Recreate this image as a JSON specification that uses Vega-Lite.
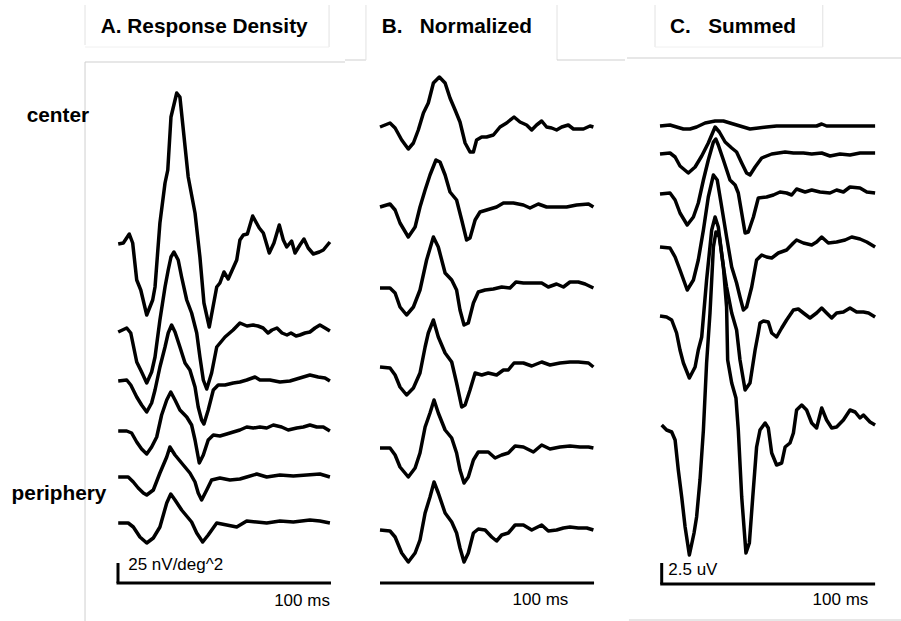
{
"$schema":"https://vega.github.io/schema/vega-lite/v6.json",
"padding":0,
"spacing":0,
"bounds":"flush",
"background":"white",
"config":{"view":{"stroke":null},"font":"Liberation Sans"},
"datasets":{
"traces":[
{"p":"A","s":"A1","t":0.1,"v":377},{"p":"A","s":"A1","t":2.5,"v":378},{"p":"A","s":"A1","t":5.3,"v":387},{"p":"A","s":"A1","t":6.9,"v":378},{"p":"A","s":"A1","t":8.8,"v":341},{"p":"A","s":"A1","t":10.7,"v":331},{"p":"A","s":"A1","t":13.5,"v":306},{"p":"A","s":"A1","t":16.3,"v":321},{"p":"A","s":"A1","t":17.4,"v":334},{"p":"A","s":"A1","t":19.7,"v":398},{"p":"A","s":"A1","t":22.1,"v":438},{"p":"A","s":"A1","t":23.4,"v":451},{"p":"A","s":"A1","t":24.9,"v":504},{"p":"A","s":"A1","t":27.6,"v":528},{"p":"A","s":"A1","t":29.1,"v":524},{"p":"A","s":"A1","t":33.0,"v":444},{"p":"A","s":"A1","t":36.2,"v":408},{"p":"A","s":"A1","t":38.5,"v":364},{"p":"A","s":"A1","t":40.4,"v":318},{"p":"A","s":"A1","t":42.9,"v":294},{"p":"A","s":"A1","t":46.4,"v":334},{"p":"A","s":"A1","t":47.9,"v":338},{"p":"A","s":"A1","t":49.8,"v":349},{"p":"A","s":"A1","t":51.8,"v":342},{"p":"A","s":"A1","t":55.8,"v":361},{"p":"A","s":"A1","t":57.3,"v":381},{"p":"A","s":"A1","t":58.9,"v":386},{"p":"A","s":"A1","t":60.8,"v":387},{"p":"A","s":"A1","t":63.3,"v":405},{"p":"A","s":"A1","t":66.4,"v":393},{"p":"A","s":"A1","t":68.3,"v":388},{"p":"A","s":"A1","t":71.1,"v":368},{"p":"A","s":"A1","t":73.3,"v":378},{"p":"A","s":"A1","t":75.8,"v":396},{"p":"A","s":"A1","t":77.7,"v":381},{"p":"A","s":"A1","t":79.3,"v":374},{"p":"A","s":"A1","t":81.6,"v":380},{"p":"A","s":"A1","t":83.2,"v":368},{"p":"A","s":"A1","t":85.5,"v":376},{"p":"A","s":"A1","t":87.4,"v":382},{"p":"A","s":"A1","t":89.4,"v":373},{"p":"A","s":"A1","t":91.8,"v":367},{"p":"A","s":"A1","t":94.6,"v":369},{"p":"A","s":"A1","t":96.5,"v":371},{"p":"A","s":"A1","t":99.6,"v":379},
{"p":"A","s":"A2","t":0.1,"v":289},{"p":"A","s":"A2","t":4.1,"v":293},{"p":"A","s":"A2","t":6.0,"v":288},{"p":"A","s":"A2","t":8.8,"v":259},{"p":"A","s":"A2","t":11.1,"v":249},{"p":"A","s":"A2","t":13.5,"v":238},{"p":"A","s":"A2","t":15.8,"v":249},{"p":"A","s":"A2","t":17.4,"v":264},{"p":"A","s":"A2","t":19.7,"v":301},{"p":"A","s":"A2","t":22.1,"v":334},{"p":"A","s":"A2","t":23.6,"v":351},{"p":"A","s":"A2","t":24.9,"v":364},{"p":"A","s":"A2","t":26.3,"v":369},{"p":"A","s":"A2","t":28.3,"v":361},{"p":"A","s":"A2","t":29.9,"v":344},{"p":"A","s":"A2","t":32.3,"v":321},{"p":"A","s":"A2","t":34.6,"v":308},{"p":"A","s":"A2","t":37.0,"v":288},{"p":"A","s":"A2","t":38.5,"v":264},{"p":"A","s":"A2","t":40.1,"v":241},{"p":"A","s":"A2","t":41.7,"v":232},{"p":"A","s":"A2","t":44.0,"v":248},{"p":"A","s":"A2","t":46.4,"v":274},{"p":"A","s":"A2","t":50.3,"v":284},{"p":"A","s":"A2","t":54.1,"v":291},{"p":"A","s":"A2","t":57.3,"v":298},{"p":"A","s":"A2","t":60.6,"v":295},{"p":"A","s":"A2","t":63.5,"v":296},{"p":"A","s":"A2","t":65.8,"v":295},{"p":"A","s":"A2","t":68.2,"v":293},{"p":"A","s":"A2","t":70.5,"v":288},{"p":"A","s":"A2","t":72.4,"v":291},{"p":"A","s":"A2","t":74.7,"v":293},{"p":"A","s":"A2","t":77.1,"v":288},{"p":"A","s":"A2","t":79.4,"v":286},{"p":"A","s":"A2","t":81.3,"v":288},{"p":"A","s":"A2","t":83.7,"v":285},{"p":"A","s":"A2","t":85.5,"v":286},{"p":"A","s":"A2","t":87.9,"v":288},{"p":"A","s":"A2","t":90.2,"v":289},{"p":"A","s":"A2","t":92.6,"v":293},{"p":"A","s":"A2","t":94.9,"v":296},{"p":"A","s":"A2","t":97.3,"v":293},{"p":"A","s":"A2","t":99.6,"v":290},
{"p":"A","s":"A3","t":0.1,"v":240},{"p":"A","s":"A3","t":4.1,"v":241},{"p":"A","s":"A3","t":6.0,"v":236},{"p":"A","s":"A3","t":8.8,"v":224},{"p":"A","s":"A3","t":11.1,"v":216},{"p":"A","s":"A3","t":13.5,"v":209},{"p":"A","s":"A3","t":15.8,"v":218},{"p":"A","s":"A3","t":17.4,"v":231},{"p":"A","s":"A3","t":19.7,"v":254},{"p":"A","s":"A3","t":22.1,"v":274},{"p":"A","s":"A3","t":23.6,"v":288},{"p":"A","s":"A3","t":25.2,"v":296},{"p":"A","s":"A3","t":26.8,"v":289},{"p":"A","s":"A3","t":29.1,"v":274},{"p":"A","s":"A3","t":31.5,"v":258},{"p":"A","s":"A3","t":33.8,"v":251},{"p":"A","s":"A3","t":36.2,"v":234},{"p":"A","s":"A3","t":37.7,"v":214},{"p":"A","s":"A3","t":39.3,"v":201},{"p":"A","s":"A3","t":40.4,"v":197},{"p":"A","s":"A3","t":42.4,"v":211},{"p":"A","s":"A3","t":44.8,"v":231},{"p":"A","s":"A3","t":47.1,"v":236},{"p":"A","s":"A3","t":50.3,"v":236},{"p":"A","s":"A3","t":54.2,"v":238},{"p":"A","s":"A3","t":57.3,"v":239},{"p":"A","s":"A3","t":60.5,"v":241},{"p":"A","s":"A3","t":64.4,"v":244},{"p":"A","s":"A3","t":66.7,"v":241},{"p":"A","s":"A3","t":71.4,"v":241},{"p":"A","s":"A3","t":76.1,"v":239},{"p":"A","s":"A3","t":80.8,"v":240},{"p":"A","s":"A3","t":85.5,"v":243},{"p":"A","s":"A3","t":90.2,"v":246},{"p":"A","s":"A3","t":94.1,"v":244},{"p":"A","s":"A3","t":97.3,"v":243},{"p":"A","s":"A3","t":99.6,"v":240},
{"p":"A","s":"A4","t":0.1,"v":190},{"p":"A","s":"A4","t":4.1,"v":190},{"p":"A","s":"A4","t":6.4,"v":188},{"p":"A","s":"A4","t":8.8,"v":179},{"p":"A","s":"A4","t":11.1,"v":172},{"p":"A","s":"A4","t":13.5,"v":167},{"p":"A","s":"A4","t":15.8,"v":174},{"p":"A","s":"A4","t":18.2,"v":184},{"p":"A","s":"A4","t":20.5,"v":206},{"p":"A","s":"A4","t":22.9,"v":221},{"p":"A","s":"A4","t":24.8,"v":229},{"p":"A","s":"A4","t":26.8,"v":221},{"p":"A","s":"A4","t":29.1,"v":211},{"p":"A","s":"A4","t":32.3,"v":204},{"p":"A","s":"A4","t":34.6,"v":196},{"p":"A","s":"A4","t":36.2,"v":181},{"p":"A","s":"A4","t":38.2,"v":158},{"p":"A","s":"A4","t":40.1,"v":166},{"p":"A","s":"A4","t":42.4,"v":181},{"p":"A","s":"A4","t":44.8,"v":186},{"p":"A","s":"A4","t":47.9,"v":185},{"p":"A","s":"A4","t":51.1,"v":187},{"p":"A","s":"A4","t":54.2,"v":189},{"p":"A","s":"A4","t":57.3,"v":191},{"p":"A","s":"A4","t":60.5,"v":194},{"p":"A","s":"A4","t":63.6,"v":193},{"p":"A","s":"A4","t":66.7,"v":194},{"p":"A","s":"A4","t":69.9,"v":193},{"p":"A","s":"A4","t":73.0,"v":196},{"p":"A","s":"A4","t":76.9,"v":194},{"p":"A","s":"A4","t":80.0,"v":191},{"p":"A","s":"A4","t":84.0,"v":193},{"p":"A","s":"A4","t":87.1,"v":194},{"p":"A","s":"A4","t":90.2,"v":196},{"p":"A","s":"A4","t":93.4,"v":194},{"p":"A","s":"A4","t":96.5,"v":194},{"p":"A","s":"A4","t":99.6,"v":190},
{"p":"A","s":"A5","t":0.1,"v":144},{"p":"A","s":"A5","t":4.8,"v":144},{"p":"A","s":"A5","t":7.2,"v":139},{"p":"A","s":"A5","t":9.5,"v":133},{"p":"A","s":"A5","t":11.9,"v":128},{"p":"A","s":"A5","t":13.5,"v":126},{"p":"A","s":"A5","t":16.6,"v":131},{"p":"A","s":"A5","t":19.7,"v":148},{"p":"A","s":"A5","t":22.9,"v":164},{"p":"A","s":"A5","t":24.4,"v":174},{"p":"A","s":"A5","t":26.8,"v":166},{"p":"A","s":"A5","t":29.9,"v":158},{"p":"A","s":"A5","t":33.8,"v":148},{"p":"A","s":"A5","t":36.2,"v":139},{"p":"A","s":"A5","t":37.7,"v":128},{"p":"A","s":"A5","t":39.3,"v":121},{"p":"A","s":"A5","t":41.7,"v":131},{"p":"A","s":"A5","t":44.0,"v":141},{"p":"A","s":"A5","t":47.9,"v":143},{"p":"A","s":"A5","t":52.6,"v":141},{"p":"A","s":"A5","t":57.3,"v":142},{"p":"A","s":"A5","t":60.5,"v":144},{"p":"A","s":"A5","t":65.2,"v":147},{"p":"A","s":"A5","t":69.9,"v":144},{"p":"A","s":"A5","t":76.1,"v":146},{"p":"A","s":"A5","t":82.4,"v":145},{"p":"A","s":"A5","t":88.7,"v":146},{"p":"A","s":"A5","t":94.9,"v":147},{"p":"A","s":"A5","t":99.6,"v":144},
{"p":"A","s":"A6","t":0.1,"v":98},{"p":"A","s":"A6","t":4.8,"v":98},{"p":"A","s":"A6","t":7.2,"v":94},{"p":"A","s":"A6","t":10.3,"v":84},{"p":"A","s":"A6","t":13.5,"v":78},{"p":"A","s":"A6","t":16.6,"v":83},{"p":"A","s":"A6","t":19.7,"v":94},{"p":"A","s":"A6","t":22.9,"v":118},{"p":"A","s":"A6","t":24.8,"v":127},{"p":"A","s":"A6","t":26.8,"v":121},{"p":"A","s":"A6","t":29.9,"v":111},{"p":"A","s":"A6","t":34.6,"v":99},{"p":"A","s":"A6","t":37.0,"v":88},{"p":"A","s":"A6","t":39.8,"v":79},{"p":"A","s":"A6","t":42.4,"v":86},{"p":"A","s":"A6","t":46.4,"v":98},{"p":"A","s":"A6","t":51.1,"v":96},{"p":"A","s":"A6","t":55.8,"v":94},{"p":"A","s":"A6","t":60.5,"v":100},{"p":"A","s":"A6","t":65.2,"v":99},{"p":"A","s":"A6","t":69.9,"v":98},{"p":"A","s":"A6","t":76.1,"v":100},{"p":"A","s":"A6","t":82.4,"v":99},{"p":"A","s":"A6","t":90.2,"v":101},{"p":"A","s":"A6","t":94.9,"v":100},{"p":"A","s":"A6","t":99.6,"v":98},
{"p":"B","s":"B1","t":0,"v":494},{"p":"B","s":"B1","t":4.7,"v":498},{"p":"B","s":"B1","t":7.1,"v":493},{"p":"B","s":"B1","t":10.2,"v":481},{"p":"B","s":"B1","t":13.3,"v":472},{"p":"B","s":"B1","t":15.7,"v":478},{"p":"B","s":"B1","t":18.0,"v":491},{"p":"B","s":"B1","t":20.4,"v":508},{"p":"B","s":"B1","t":22.7,"v":518},{"p":"B","s":"B1","t":25.1,"v":538},{"p":"B","s":"B1","t":27.9,"v":544},{"p":"B","s":"B1","t":30.6,"v":538},{"p":"B","s":"B1","t":32.9,"v":523},{"p":"B","s":"B1","t":35.3,"v":511},{"p":"B","s":"B1","t":37.6,"v":499},{"p":"B","s":"B1","t":40.0,"v":478},{"p":"B","s":"B1","t":42.3,"v":469},{"p":"B","s":"B1","t":43.9,"v":469},{"p":"B","s":"B1","t":45.4,"v":481},{"p":"B","s":"B1","t":47.8,"v":484},{"p":"B","s":"B1","t":50.1,"v":484},{"p":"B","s":"B1","t":53.3,"v":486},{"p":"B","s":"B1","t":56.4,"v":494},{"p":"B","s":"B1","t":59.5,"v":498},{"p":"B","s":"B1","t":63.0,"v":504},{"p":"B","s":"B1","t":65.8,"v":499},{"p":"B","s":"B1","t":68.9,"v":496},{"p":"B","s":"B1","t":71.3,"v":491},{"p":"B","s":"B1","t":73.6,"v":496},{"p":"B","s":"B1","t":76.0,"v":500},{"p":"B","s":"B1","t":78.3,"v":494},{"p":"B","s":"B1","t":80.7,"v":493},{"p":"B","s":"B1","t":83.0,"v":491},{"p":"B","s":"B1","t":85.4,"v":494},{"p":"B","s":"B1","t":88.5,"v":496},{"p":"B","s":"B1","t":90.9,"v":492},{"p":"B","s":"B1","t":95.6,"v":492},{"p":"B","s":"B1","t":98.7,"v":495},{"p":"B","s":"B1","t":100.3,"v":494},
{"p":"B","s":"B2","t":0,"v":414},{"p":"B","s":"B2","t":4.7,"v":417},{"p":"B","s":"B2","t":7.1,"v":411},{"p":"B","s":"B2","t":9.4,"v":398},{"p":"B","s":"B2","t":13.3,"v":384},{"p":"B","s":"B2","t":16.5,"v":394},{"p":"B","s":"B2","t":18.8,"v":414},{"p":"B","s":"B2","t":21.2,"v":431},{"p":"B","s":"B2","t":23.5,"v":446},{"p":"B","s":"B2","t":26.3,"v":461},{"p":"B","s":"B2","t":28.2,"v":459},{"p":"B","s":"B2","t":30.6,"v":446},{"p":"B","s":"B2","t":32.9,"v":429},{"p":"B","s":"B2","t":36.0,"v":421},{"p":"B","s":"B2","t":38.4,"v":401},{"p":"B","s":"B2","t":40.7,"v":381},{"p":"B","s":"B2","t":42.3,"v":383},{"p":"B","s":"B2","t":44.7,"v":401},{"p":"B","s":"B2","t":47.0,"v":409},{"p":"B","s":"B2","t":50.1,"v":411},{"p":"B","s":"B2","t":54.8,"v":414},{"p":"B","s":"B2","t":58.0,"v":418},{"p":"B","s":"B2","t":62.7,"v":418},{"p":"B","s":"B2","t":67.4,"v":416},{"p":"B","s":"B2","t":70.5,"v":413},{"p":"B","s":"B2","t":74.4,"v":417},{"p":"B","s":"B2","t":78.3,"v":414},{"p":"B","s":"B2","t":83.0,"v":414},{"p":"B","s":"B2","t":87.7,"v":414},{"p":"B","s":"B2","t":92.4,"v":416},{"p":"B","s":"B2","t":98.0,"v":417},{"p":"B","s":"B2","t":100.3,"v":414},
{"p":"B","s":"B3","t":0,"v":333},{"p":"B","s":"B3","t":4.7,"v":333},{"p":"B","s":"B3","t":7.1,"v":328},{"p":"B","s":"B3","t":9.4,"v":314},{"p":"B","s":"B3","t":12.5,"v":306},{"p":"B","s":"B3","t":15.7,"v":314},{"p":"B","s":"B3","t":18.8,"v":331},{"p":"B","s":"B3","t":21.9,"v":361},{"p":"B","s":"B3","t":25.1,"v":384},{"p":"B","s":"B3","t":27.4,"v":374},{"p":"B","s":"B3","t":30.6,"v":348},{"p":"B","s":"B3","t":33.7,"v":341},{"p":"B","s":"B3","t":36.0,"v":331},{"p":"B","s":"B3","t":37.6,"v":311},{"p":"B","s":"B3","t":39.5,"v":296},{"p":"B","s":"B3","t":41.5,"v":298},{"p":"B","s":"B3","t":43.9,"v":318},{"p":"B","s":"B3","t":46.2,"v":329},{"p":"B","s":"B3","t":49.4,"v":331},{"p":"B","s":"B3","t":53.3,"v":332},{"p":"B","s":"B3","t":57.2,"v":334},{"p":"B","s":"B3","t":61.1,"v":333},{"p":"B","s":"B3","t":63.9,"v":339},{"p":"B","s":"B3","t":67.4,"v":338},{"p":"B","s":"B3","t":72.1,"v":338},{"p":"B","s":"B3","t":76.0,"v":338},{"p":"B","s":"B3","t":79.1,"v":334},{"p":"B","s":"B3","t":83.0,"v":337},{"p":"B","s":"B3","t":86.2,"v":334},{"p":"B","s":"B3","t":89.3,"v":339},{"p":"B","s":"B3","t":93.2,"v":339},{"p":"B","s":"B3","t":96.4,"v":337},{"p":"B","s":"B3","t":100.3,"v":333},
{"p":"B","s":"B4","t":0,"v":254},{"p":"B","s":"B4","t":4.7,"v":253},{"p":"B","s":"B4","t":7.1,"v":246},{"p":"B","s":"B4","t":9.4,"v":234},{"p":"B","s":"B4","t":12.5,"v":226},{"p":"B","s":"B4","t":15.7,"v":233},{"p":"B","s":"B4","t":18.8,"v":248},{"p":"B","s":"B4","t":21.2,"v":274},{"p":"B","s":"B4","t":22.7,"v":288},{"p":"B","s":"B4","t":25.1,"v":301},{"p":"B","s":"B4","t":27.4,"v":284},{"p":"B","s":"B4","t":30.6,"v":268},{"p":"B","s":"B4","t":33.7,"v":259},{"p":"B","s":"B4","t":36.0,"v":238},{"p":"B","s":"B4","t":38.4,"v":214},{"p":"B","s":"B4","t":40.0,"v":216},{"p":"B","s":"B4","t":42.3,"v":231},{"p":"B","s":"B4","t":44.7,"v":248},{"p":"B","s":"B4","t":47.8,"v":246},{"p":"B","s":"B4","t":50.9,"v":248},{"p":"B","s":"B4","t":54.8,"v":246},{"p":"B","s":"B4","t":58.0,"v":251},{"p":"B","s":"B4","t":60.3,"v":251},{"p":"B","s":"B4","t":63.0,"v":258},{"p":"B","s":"B4","t":67.4,"v":258},{"p":"B","s":"B4","t":71.3,"v":255},{"p":"B","s":"B4","t":76.0,"v":259},{"p":"B","s":"B4","t":79.9,"v":256},{"p":"B","s":"B4","t":84.6,"v":258},{"p":"B","s":"B4","t":89.3,"v":259},{"p":"B","s":"B4","t":93.2,"v":259},{"p":"B","s":"B4","t":98.0,"v":258},{"p":"B","s":"B4","t":100.3,"v":254},
{"p":"B","s":"B5","t":0,"v":173},{"p":"B","s":"B5","t":4.7,"v":173},{"p":"B","s":"B5","t":7.1,"v":166},{"p":"B","s":"B5","t":9.4,"v":154},{"p":"B","s":"B5","t":13.3,"v":144},{"p":"B","s":"B5","t":16.5,"v":153},{"p":"B","s":"B5","t":18.8,"v":168},{"p":"B","s":"B5","t":21.2,"v":194},{"p":"B","s":"B5","t":23.5,"v":208},{"p":"B","s":"B5","t":25.4,"v":221},{"p":"B","s":"B5","t":27.4,"v":208},{"p":"B","s":"B5","t":30.6,"v":191},{"p":"B","s":"B5","t":33.7,"v":183},{"p":"B","s":"B5","t":36.0,"v":168},{"p":"B","s":"B5","t":37.6,"v":151},{"p":"B","s":"B5","t":39.5,"v":138},{"p":"B","s":"B5","t":41.5,"v":144},{"p":"B","s":"B5","t":43.9,"v":161},{"p":"B","s":"B5","t":46.2,"v":169},{"p":"B","s":"B5","t":50.9,"v":169},{"p":"B","s":"B5","t":54.1,"v":163},{"p":"B","s":"B5","t":57.2,"v":166},{"p":"B","s":"B5","t":60.3,"v":168},{"p":"B","s":"B5","t":63.5,"v":175},{"p":"B","s":"B5","t":67.4,"v":174},{"p":"B","s":"B5","t":72.1,"v":169},{"p":"B","s":"B5","t":76.0,"v":176},{"p":"B","s":"B5","t":79.9,"v":172},{"p":"B","s":"B5","t":84.6,"v":174},{"p":"B","s":"B5","t":89.3,"v":175},{"p":"B","s":"B5","t":94.0,"v":174},{"p":"B","s":"B5","t":98.0,"v":174},{"p":"B","s":"B5","t":100.3,"v":173},
{"p":"B","s":"B6","t":0,"v":91},{"p":"B","s":"B6","t":4.7,"v":90},{"p":"B","s":"B6","t":7.1,"v":84},{"p":"B","s":"B6","t":10.2,"v":68},{"p":"B","s":"B6","t":13.3,"v":59},{"p":"B","s":"B6","t":16.5,"v":68},{"p":"B","s":"B6","t":18.8,"v":81},{"p":"B","s":"B6","t":21.2,"v":108},{"p":"B","s":"B6","t":23.5,"v":124},{"p":"B","s":"B6","t":25.4,"v":139},{"p":"B","s":"B6","t":27.4,"v":128},{"p":"B","s":"B6","t":30.6,"v":108},{"p":"B","s":"B6","t":33.7,"v":99},{"p":"B","s":"B6","t":36.0,"v":88},{"p":"B","s":"B6","t":37.6,"v":73},{"p":"B","s":"B6","t":39.5,"v":59},{"p":"B","s":"B6","t":41.5,"v":68},{"p":"B","s":"B6","t":43.9,"v":88},{"p":"B","s":"B6","t":46.2,"v":92},{"p":"B","s":"B6","t":49.4,"v":91},{"p":"B","s":"B6","t":52.5,"v":84},{"p":"B","s":"B6","t":54.8,"v":80},{"p":"B","s":"B6","t":57.2,"v":86},{"p":"B","s":"B6","t":60.3,"v":88},{"p":"B","s":"B6","t":63.5,"v":96},{"p":"B","s":"B6","t":67.4,"v":96},{"p":"B","s":"B6","t":71.3,"v":91},{"p":"B","s":"B6","t":76.0,"v":96},{"p":"B","s":"B6","t":79.1,"v":90},{"p":"B","s":"B6","t":83.0,"v":91},{"p":"B","s":"B6","t":86.2,"v":93},{"p":"B","s":"B6","t":89.3,"v":94},{"p":"B","s":"B6","t":93.2,"v":93},{"p":"B","s":"B6","t":97.2,"v":93},{"p":"B","s":"B6","t":100.3,"v":91},
{"p":"C","s":"C1","t":0,"v":495},{"p":"C","s":"C1","t":4.7,"v":496},{"p":"C","s":"C1","t":7.8,"v":494},{"p":"C","s":"C1","t":11.0,"v":492},{"p":"C","s":"C1","t":14.1,"v":492},{"p":"C","s":"C1","t":17.2,"v":494},{"p":"C","s":"C1","t":21.2,"v":498},{"p":"C","s":"C1","t":25.9,"v":500},{"p":"C","s":"C1","t":29.8,"v":500},{"p":"C","s":"C1","t":32.9,"v":498},{"p":"C","s":"C1","t":37.6,"v":495},{"p":"C","s":"C1","t":42.3,"v":492},{"p":"C","s":"C1","t":46.2,"v":493},{"p":"C","s":"C1","t":50.1,"v":494},{"p":"C","s":"C1","t":54.8,"v":495},{"p":"C","s":"C1","t":61.1,"v":495},{"p":"C","s":"C1","t":67.4,"v":495},{"p":"C","s":"C1","t":73.6,"v":495},{"p":"C","s":"C1","t":76.0,"v":497},{"p":"C","s":"C1","t":78.3,"v":495},{"p":"C","s":"C1","t":86.2,"v":495},{"p":"C","s":"C1","t":101.1,"v":495},
{"p":"C","s":"C2","t":0,"v":467},{"p":"C","s":"C2","t":4.7,"v":468},{"p":"C","s":"C2","t":7.1,"v":464},{"p":"C","s":"C2","t":9.4,"v":455},{"p":"C","s":"C2","t":13.3,"v":448},{"p":"C","s":"C2","t":16.5,"v":454},{"p":"C","s":"C2","t":19.6,"v":465},{"p":"C","s":"C2","t":22.7,"v":478},{"p":"C","s":"C2","t":25.9,"v":494},{"p":"C","s":"C2","t":27.9,"v":489},{"p":"C","s":"C2","t":30.6,"v":479},{"p":"C","s":"C2","t":33.7,"v":473},{"p":"C","s":"C2","t":36.0,"v":469},{"p":"C","s":"C2","t":38.4,"v":458},{"p":"C","s":"C2","t":40.7,"v":448},{"p":"C","s":"C2","t":42.3,"v":446},{"p":"C","s":"C2","t":44.7,"v":454},{"p":"C","s":"C2","t":47.8,"v":463},{"p":"C","s":"C2","t":52.5,"v":467},{"p":"C","s":"C2","t":58.8,"v":469},{"p":"C","s":"C2","t":62.7,"v":468},{"p":"C","s":"C2","t":67.4,"v":468},{"p":"C","s":"C2","t":71.3,"v":467},{"p":"C","s":"C2","t":76.0,"v":468},{"p":"C","s":"C2","t":79.9,"v":465},{"p":"C","s":"C2","t":84.6,"v":467},{"p":"C","s":"C2","t":89.3,"v":466},{"p":"C","s":"C2","t":94.0,"v":468},{"p":"C","s":"C2","t":101.1,"v":468},
{"p":"C","s":"C3","t":0,"v":427},{"p":"C","s":"C3","t":4.7,"v":428},{"p":"C","s":"C3","t":7.1,"v":421},{"p":"C","s":"C3","t":9.4,"v":408},{"p":"C","s":"C3","t":12.8,"v":396},{"p":"C","s":"C3","t":15.7,"v":404},{"p":"C","s":"C3","t":18.0,"v":418},{"p":"C","s":"C3","t":20.4,"v":441},{"p":"C","s":"C3","t":22.7,"v":461},{"p":"C","s":"C3","t":25.1,"v":479},{"p":"C","s":"C3","t":26.2,"v":482},{"p":"C","s":"C3","t":27.4,"v":476},{"p":"C","s":"C3","t":29.8,"v":461},{"p":"C","s":"C3","t":32.9,"v":441},{"p":"C","s":"C3","t":35.3,"v":436},{"p":"C","s":"C3","t":36.8,"v":428},{"p":"C","s":"C3","t":38.4,"v":408},{"p":"C","s":"C3","t":40.0,"v":388},{"p":"C","s":"C3","t":41.5,"v":389},{"p":"C","s":"C3","t":43.9,"v":404},{"p":"C","s":"C3","t":46.2,"v":423},{"p":"C","s":"C3","t":50.1,"v":424},{"p":"C","s":"C3","t":53.3,"v":426},{"p":"C","s":"C3","t":56.4,"v":429},{"p":"C","s":"C3","t":59.5,"v":428},{"p":"C","s":"C3","t":61.9,"v":426},{"p":"C","s":"C3","t":64.2,"v":432},{"p":"C","s":"C3","t":68.2,"v":429},{"p":"C","s":"C3","t":71.3,"v":431},{"p":"C","s":"C3","t":75.2,"v":429},{"p":"C","s":"C3","t":79.9,"v":428},{"p":"C","s":"C3","t":83.0,"v":431},{"p":"C","s":"C3","t":86.2,"v":429},{"p":"C","s":"C3","t":89.3,"v":434},{"p":"C","s":"C3","t":94.0,"v":433},{"p":"C","s":"C3","t":97.2,"v":429},{"p":"C","s":"C3","t":101.1,"v":428},
{"p":"C","s":"C4","t":0,"v":374},{"p":"C","s":"C4","t":4.7,"v":373},{"p":"C","s":"C4","t":7.1,"v":364},{"p":"C","s":"C4","t":9.4,"v":351},{"p":"C","s":"C4","t":12.8,"v":331},{"p":"C","s":"C4","t":15.7,"v":341},{"p":"C","s":"C4","t":18.0,"v":361},{"p":"C","s":"C4","t":20.4,"v":391},{"p":"C","s":"C4","t":22.7,"v":424},{"p":"C","s":"C4","t":25.1,"v":446},{"p":"C","s":"C4","t":26.9,"v":441},{"p":"C","s":"C4","t":29.0,"v":414},{"p":"C","s":"C4","t":31.3,"v":384},{"p":"C","s":"C4","t":33.7,"v":354},{"p":"C","s":"C4","t":36.0,"v":338},{"p":"C","s":"C4","t":37.6,"v":324},{"p":"C","s":"C4","t":39.2,"v":311},{"p":"C","s":"C4","t":40.7,"v":314},{"p":"C","s":"C4","t":43.1,"v":334},{"p":"C","s":"C4","t":45.4,"v":361},{"p":"C","s":"C4","t":47.8,"v":366},{"p":"C","s":"C4","t":50.1,"v":364},{"p":"C","s":"C4","t":52.5,"v":363},{"p":"C","s":"C4","t":55.6,"v":368},{"p":"C","s":"C4","t":59.5,"v":371},{"p":"C","s":"C4","t":62.7,"v":378},{"p":"C","s":"C4","t":64.2,"v":381},{"p":"C","s":"C4","t":67.4,"v":378},{"p":"C","s":"C4","t":71.3,"v":376},{"p":"C","s":"C4","t":73.6,"v":379},{"p":"C","s":"C4","t":76.0,"v":384},{"p":"C","s":"C4","t":79.1,"v":378},{"p":"C","s":"C4","t":83.0,"v":379},{"p":"C","s":"C4","t":87.0,"v":381},{"p":"C","s":"C4","t":90.1,"v":384},{"p":"C","s":"C4","t":94.0,"v":382},{"p":"C","s":"C4","t":97.2,"v":379},{"p":"C","s":"C4","t":101.1,"v":374},
{"p":"C","s":"C5","t":0,"v":305},{"p":"C","s":"C5","t":3.1,"v":304},{"p":"C","s":"C5","t":5.5,"v":301},{"p":"C","s":"C5","t":7.8,"v":288},{"p":"C","s":"C5","t":9.4,"v":271},{"p":"C","s":"C5","t":11.0,"v":258},{"p":"C","s":"C5","t":13.8,"v":243},{"p":"C","s":"C5","t":16.5,"v":254},{"p":"C","s":"C5","t":18.0,"v":271},{"p":"C","s":"C5","t":19.6,"v":284},{"p":"C","s":"C5","t":21.9,"v":341},{"p":"C","s":"C5","t":24.3,"v":391},{"p":"C","s":"C5","t":25.9,"v":404},{"p":"C","s":"C5","t":27.4,"v":394},{"p":"C","s":"C5","t":29.8,"v":354},{"p":"C","s":"C5","t":31.3,"v":334},{"p":"C","s":"C5","t":33.7,"v":308},{"p":"C","s":"C5","t":36.0,"v":291},{"p":"C","s":"C5","t":37.6,"v":261},{"p":"C","s":"C5","t":40.0,"v":231},{"p":"C","s":"C5","t":42.3,"v":238},{"p":"C","s":"C5","t":44.7,"v":271},{"p":"C","s":"C5","t":46.2,"v":288},{"p":"C","s":"C5","t":47.0,"v":298},{"p":"C","s":"C5","t":48.6,"v":300},{"p":"C","s":"C5","t":50.9,"v":299},{"p":"C","s":"C5","t":52.5,"v":288},{"p":"C","s":"C5","t":54.8,"v":284},{"p":"C","s":"C5","t":57.2,"v":293},{"p":"C","s":"C5","t":59.5,"v":301},{"p":"C","s":"C5","t":62.7,"v":311},{"p":"C","s":"C5","t":65.0,"v":312},{"p":"C","s":"C5","t":67.4,"v":308},{"p":"C","s":"C5","t":70.5,"v":303},{"p":"C","s":"C5","t":73.6,"v":308},{"p":"C","s":"C5","t":76.0,"v":313},{"p":"C","s":"C5","t":78.3,"v":308},{"p":"C","s":"C5","t":80.7,"v":303},{"p":"C","s":"C5","t":83.0,"v":308},{"p":"C","s":"C5","t":86.2,"v":309},{"p":"C","s":"C5","t":89.3,"v":313},{"p":"C","s":"C5","t":92.4,"v":309},{"p":"C","s":"C5","t":95.6,"v":309},{"p":"C","s":"C5","t":98.0,"v":308},{"p":"C","s":"C5","t":101.1,"v":304},
{"p":"C","s":"C6","t":0.8,"v":196},{"p":"C","s":"C6","t":3.1,"v":191},{"p":"C","s":"C6","t":5.5,"v":189},{"p":"C","s":"C6","t":7.1,"v":181},{"p":"C","s":"C6","t":8.6,"v":151},{"p":"C","s":"C6","t":10.2,"v":124},{"p":"C","s":"C6","t":11.8,"v":94},{"p":"C","s":"C6","t":13.8,"v":66},{"p":"C","s":"C6","t":16.0,"v":88},{"p":"C","s":"C6","t":17.2,"v":104},{"p":"C","s":"C6","t":18.8,"v":141},{"p":"C","s":"C6","t":20.4,"v":191},{"p":"C","s":"C6","t":21.9,"v":258},{"p":"C","s":"C6","t":23.5,"v":308},{"p":"C","s":"C6","t":25.1,"v":374},{"p":"C","s":"C6","t":26.3,"v":389},{"p":"C","s":"C6","t":27.9,"v":384},{"p":"C","s":"C6","t":29.8,"v":354},{"p":"C","s":"C6","t":31.3,"v":314},{"p":"C","s":"C6","t":31.8,"v":261},{"p":"C","s":"C6","t":33.7,"v":238},{"p":"C","s":"C6","t":35.7,"v":223},{"p":"C","s":"C6","t":36.8,"v":191},{"p":"C","s":"C6","t":38.4,"v":124},{"p":"C","s":"C6","t":40.4,"v":68},{"p":"C","s":"C6","t":42.0,"v":78},{"p":"C","s":"C6","t":43.6,"v":124},{"p":"C","s":"C6","t":45.4,"v":174},{"p":"C","s":"C6","t":47.0,"v":191},{"p":"C","s":"C6","t":49.4,"v":198},{"p":"C","s":"C6","t":50.9,"v":193},{"p":"C","s":"C6","t":52.5,"v":168},{"p":"C","s":"C6","t":54.8,"v":156},{"p":"C","s":"C6","t":57.2,"v":158},{"p":"C","s":"C6","t":58.8,"v":174},{"p":"C","s":"C6","t":61.1,"v":178},{"p":"C","s":"C6","t":62.7,"v":188},{"p":"C","s":"C6","t":64.2,"v":211},{"p":"C","s":"C6","t":66.6,"v":216},{"p":"C","s":"C6","t":68.9,"v":211},{"p":"C","s":"C6","t":71.3,"v":198},{"p":"C","s":"C6","t":73.6,"v":193},{"p":"C","s":"C6","t":76.0,"v":213},{"p":"C","s":"C6","t":78.3,"v":201},{"p":"C","s":"C6","t":80.7,"v":193},{"p":"C","s":"C6","t":83.0,"v":194},{"p":"C","s":"C6","t":86.2,"v":201},{"p":"C","s":"C6","t":89.3,"v":211},{"p":"C","s":"C6","t":91.7,"v":209},{"p":"C","s":"C6","t":94.0,"v":203},{"p":"C","s":"C6","t":95.6,"v":206},{"p":"C","s":"C6","t":98.7,"v":199},{"p":"C","s":"C6","t":101.1,"v":196}
],
"frames":[
{"p":"A","t":-15.5,"t2":-15.5,"v":616,"v2":576,"c":"#e2e2e2"},
{"p":"A","t":99.2,"t2":99.2,"v":616,"v2":574,"c":"#e2e2e2"},
{"p":"A","t":-15.5,"t2":99.2,"v":574,"v2":574,"c":"#f0f0f0"},
{"p":"A","t":-15.5,"t2":-15.5,"v":559,"v2":0,"c":"#cfcfcf"},
{"p":"A","t":-15.5,"t2":106.69,"v":559,"v2":559,"c":"#cfcfcf"},
{"p":"B","t":-16.45,"t2":-6.6,"v":561,"v2":561,"c":"#cfcfcf"},
{"p":"B","t":-6.6,"t2":-6.6,"v":616,"v2":561,"c":"#e2e2e2"},
{"p":"B","t":83.2,"t2":83.2,"v":616,"v2":561,"c":"#e2e2e2"},
{"p":"B","t":83.2,"t2":115.15,"v":561,"v2":561,"c":"#cfcfcf"},
{"p":"C","t":-15.5,"t2":113.27,"v":563,"v2":563,"c":"#cfcfcf"},
{"p":"C","t":-2.35,"t2":-2.35,"v":616,"v2":574,"c":"#e2e2e2"},
{"p":"C","t":76.5,"t2":76.5,"v":616,"v2":574,"c":"#e2e2e2"},
{"p":"C","t":-2.35,"t2":76.5,"v":574,"v2":574,"c":"#f0f0f0"},
{"p":"C","t":-14.6,"t2":113.27,"v":1,"v2":1,"c":"#cfcfcf"}
],
"bars":[
{"p":"A","t":0,"t2":0,"v":38,"v2":58},
{"p":"A","t":-0.7,"t2":100.1,"v":38,"v2":38},
{"p":"B","t":0,"t2":100.6,"v":38,"v2":38},
{"p":"C","t":0.8,"t2":0.8,"v":37,"v2":58},
{"p":"C","t":0.1,"t2":101.1,"v":37,"v2":37}
],
"labels":[
{"p":"A","k":"b","t":-8.1,"v":588,"label":"A. Response Density"},
{"p":"A","k":"b","t":-42.9,"v":499,"label":"center"},
{"p":"A","k":"b","t":-50.0,"v":121,"label":"periphery"},
{"p":"A","k":"l","t":4.8,"v":51,"label":"25 nV/deg^2"},
{"p":"A","k":"r","t":99.6,"v":15,"label":"100 ms"},
{"p":"B","k":"b","t":0.8,"v":588,"label":"B.\u00a0\u00a0\u00a0Normalized"},
{"p":"B","k":"r","t":88.5,"v":16,"label":"100 ms"},
{"p":"C","k":"b","t":4.7,"v":588,"label":"C.\u00a0\u00a0\u00a0Summed"},
{"p":"C","k":"l","t":3.9,"v":46,"label":"2.5 uV"},
{"p":"C","k":"r","t":97.9,"v":16,"label":"100 ms"}
]
},
"hconcat":[
{
"width":345,"height":621,
"encoding":{
"x":{"field":"t","type":"quantitative","scale":{"domain":[-55.46,106.69],"nice":false,"zero":false},"axis":null},
"y":{"field":"v","type":"quantitative","scale":{"domain":[0,621],"nice":false,"zero":false},"axis":null}
},
"layer":[
{"data":{"name":"frames"},"transform":[{"filter":"datum.p==='A'"}],"mark":{"type":"rule","strokeWidth":1},"encoding":{"x2":{"field":"t2"},"y2":{"field":"v2"},"color":{"field":"c","type":"nominal","scale":null}}},
{"data":{"name":"traces"},"transform":[{"filter":"datum.p==='A'"}],"mark":{"type":"line","color":"#000000","strokeWidth":3.5,"strokeJoin":"round"},"encoding":{"detail":{"field":"s","type":"nominal"}}},
{"data":{"name":"bars"},"transform":[{"filter":"datum.p==='A'"}],"mark":{"type":"rule","color":"#000000","strokeWidth":3},"encoding":{"x2":{"field":"t2"},"y2":{"field":"v2"}}},
{"data":{"name":"labels"},"transform":[{"filter":"datum.p==='A' && datum.k==='b'"}],"mark":{"type":"text","align":"left","baseline":"alphabetic","fontSize":20.8,"fontWeight":"bold","color":"#000000"},"encoding":{"text":{"field":"label"}}},
{"data":{"name":"labels"},"transform":[{"filter":"datum.p==='A' && datum.k==='l'"}],"mark":{"type":"text","align":"left","baseline":"alphabetic","fontSize":17,"color":"#000000"},"encoding":{"text":{"field":"label"}}},
{"data":{"name":"labels"},"transform":[{"filter":"datum.p==='A' && datum.k==='r'"}],"mark":{"type":"text","align":"right","baseline":"alphabetic","fontSize":17,"color":"#000000"},"encoding":{"text":{"field":"label"}}}
]
},
{
"width":280,"height":621,
"encoding":{
"x":{"field":"t","type":"quantitative","scale":{"domain":[-16.45,115.15],"nice":false,"zero":false},"axis":null},
"y":{"field":"v","type":"quantitative","scale":{"domain":[0,621],"nice":false,"zero":false},"axis":null}
},
"layer":[
{"data":{"name":"frames"},"transform":[{"filter":"datum.p==='B'"}],"mark":{"type":"rule","strokeWidth":1},"encoding":{"x2":{"field":"t2"},"y2":{"field":"v2"},"color":{"field":"c","type":"nominal","scale":null}}},
{"data":{"name":"traces"},"transform":[{"filter":"datum.p==='B'"}],"mark":{"type":"line","color":"#000000","strokeWidth":3.5,"strokeJoin":"round"},"encoding":{"detail":{"field":"s","type":"nominal"}}},
{"data":{"name":"bars"},"transform":[{"filter":"datum.p==='B'"}],"mark":{"type":"rule","color":"#000000","strokeWidth":3},"encoding":{"x2":{"field":"t2"},"y2":{"field":"v2"}}},
{"data":{"name":"labels"},"transform":[{"filter":"datum.p==='B' && datum.k==='b'"}],"mark":{"type":"text","align":"left","baseline":"alphabetic","fontSize":20.8,"fontWeight":"bold","color":"#000000"},"encoding":{"text":{"field":"label"}}},
{"data":{"name":"labels"},"transform":[{"filter":"datum.p==='B' && datum.k==='r'"}],"mark":{"type":"text","align":"right","baseline":"alphabetic","fontSize":17,"color":"#000000"},"encoding":{"text":{"field":"label"}}}
]
},
{
"width":276,"height":621,
"encoding":{
"x":{"field":"t","type":"quantitative","scale":{"domain":[-16.45,113.27],"nice":false,"zero":false},"axis":null},
"y":{"field":"v","type":"quantitative","scale":{"domain":[0,621],"nice":false,"zero":false},"axis":null}
},
"layer":[
{"data":{"name":"frames"},"transform":[{"filter":"datum.p==='C'"}],"mark":{"type":"rule","strokeWidth":1},"encoding":{"x2":{"field":"t2"},"y2":{"field":"v2"},"color":{"field":"c","type":"nominal","scale":null}}},
{"data":{"name":"traces"},"transform":[{"filter":"datum.p==='C'"}],"mark":{"type":"line","color":"#000000","strokeWidth":3.5,"strokeJoin":"round"},"encoding":{"detail":{"field":"s","type":"nominal"}}},
{"data":{"name":"bars"},"transform":[{"filter":"datum.p==='C'"}],"mark":{"type":"rule","color":"#000000","strokeWidth":3},"encoding":{"x2":{"field":"t2"},"y2":{"field":"v2"}}},
{"data":{"name":"labels"},"transform":[{"filter":"datum.p==='C' && datum.k==='b'"}],"mark":{"type":"text","align":"left","baseline":"alphabetic","fontSize":20.8,"fontWeight":"bold","color":"#000000"},"encoding":{"text":{"field":"label"}}},
{"data":{"name":"labels"},"transform":[{"filter":"datum.p==='C' && datum.k==='l'"}],"mark":{"type":"text","align":"left","baseline":"alphabetic","fontSize":17,"color":"#000000"},"encoding":{"text":{"field":"label"}}},
{"data":{"name":"labels"},"transform":[{"filter":"datum.p==='C' && datum.k==='r'"}],"mark":{"type":"text","align":"right","baseline":"alphabetic","fontSize":17,"color":"#000000"},"encoding":{"text":{"field":"label"}}}
]
}
]
}
